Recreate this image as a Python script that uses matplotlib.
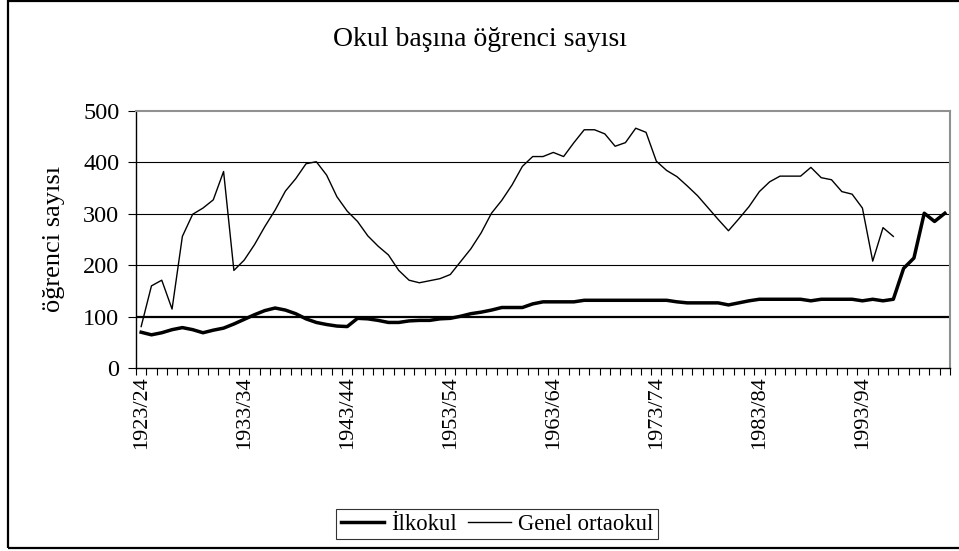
import numpy as np
import matplotlib
matplotlib.use("Agg")
import matplotlib.pyplot as plt
from matplotlib.patches import Rectangle

plt.rcParams['font.family'] = ['Liberation Serif', 'DejaVu Serif']

# school years 1923/24 .. 2001/02
years = [f"{y}/{str(y + 1)[-2:]}" for y in range(1923, 2002)]

# students per school, primary (ilkokul)
ilkokul = [70, 65, 69, 75, 79, 75, 69, 74, 78, 86,
           95, 104, 112, 117, 113, 106, 96, 89, 85, 82,
           81, 97, 96, 93, 89, 89, 92, 93, 93, 96,
           97, 101, 106, 109, 113, 118, 118, 118, 125, 129,
           129, 129, 129, 132, 132, 132, 132, 132, 132, 132,
           132, 132, 129, 127, 127, 127, 127, 123, 127, 131,
           134, 134, 134, 134, 134, 131, 134, 134, 134, 134,
           131, 134, 131, 134, 194, 214, 301, 285, 301]

# students per school, general lower secondary (until 1996/97)
genel = [81, 160, 171, 115, 256, 299, 311, 327, 382, 190,
         210, 240, 275, 307, 344, 368, 397, 401, 375, 333,
         305, 285, 257, 237, 220, 190, 171, 166, 170, 174,
         182, 207, 232, 263, 301, 326, 356, 392, 411, 411,
         419, 411, 438, 463, 463, 455, 431, 438, 466, 458,
         402, 384, 372, 354, 335, 312, 289, 267, 290, 314,
         343, 362, 373, 373, 373, 390, 370, 366, 343, 338,
         311, 208, 273, 256]

y_ticks = [0, 100, 200, 300, 400, 500]
label_every = 10

W, H = 959, 551
fig = plt.figure(figsize=(W / 100, H / 100), dpi=100)

# outer frame of the chart
fig.patches.append(Rectangle((8 / W, 1 - 548 / H), 960 / W, 547 / H,
                             transform=fig.transFigure, fill=False,
                             edgecolor='black', linewidth=1.6))

ax = fig.add_axes([136 / W, 1 - 368.3 / H, 814 / W, 257.6 / H])

x_il = np.arange(len(ilkokul))
x_ge = np.arange(len(genel))
l1, = ax.plot(x_il, ilkokul, color='black', linewidth=2.5)
l2, = ax.plot(x_ge, genel, color='black', linewidth=1.0)

for v in y_ticks[1:-1]:
    ax.axhline(v, color='black', linewidth=1.6 if v == 100 else 0.8, zorder=0)

ax.set_xlim(-0.5, len(years) - 0.5)
ax.set_ylim(0, 500)

ax.set_yticks(y_ticks)
ax.set_yticklabels([str(v) for v in y_ticks], fontsize=17.5)
ax.tick_params(axis='y', direction='out', length=6, width=0.8, pad=6)

major = list(range(0, 71, label_every))
ax.set_xticks(major)
ax.set_xticklabels([years[i] for i in major], rotation=90, fontsize=16)
ax.set_xticks(np.arange(-0.5, len(years), 1), minor=True)
ax.tick_params(axis='x', which='major', length=0, pad=6)
ax.tick_params(axis='x', which='minor', direction='out', length=5, width=0.8)

for s in ['left', 'bottom']:
    ax.spines[s].set_color('black')
    ax.spines[s].set_linewidth(1.0)
for s in ['top', 'right']:
    ax.spines[s].set_color('#909090')
    ax.spines[s].set_linewidth(1.5)

fig.text(480 / W, 1 - 40 / H, 'Okul başına öğrenci sayısı', ha='center', va='center',
         fontsize=20)
fig.text(54 / W, 1 - 239 / H, 'öğrenci sayısı', ha='center', va='center',
         rotation=90, fontsize=19)

leg = fig.legend([l1, l2], ['İlkokul', 'Genel ortaokul'], loc='center',
                 bbox_to_anchor=(497 / W, 1 - 524 / H), ncol=2, fontsize=16.3,
                 frameon=True, fancybox=False, handlelength=1.9,
                 handletextpad=0.3, columnspacing=0.5, borderpad=0.2,
                 borderaxespad=0)
leg.get_frame().set_edgecolor('black')
leg.get_frame().set_linewidth(0.8)

fig.savefig('out.png', dpi=100)
